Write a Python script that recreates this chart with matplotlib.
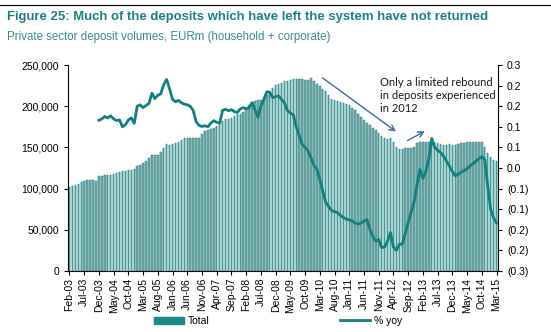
import numpy as np
import pandas as pd
import matplotlib
matplotlib.use("Agg")
import matplotlib.pyplot as plt
from matplotlib.patches import Patch
from matplotlib.lines import Line2D
from matplotlib.ticker import FuncFormatter

plt.rcParams['font.family'] = ['Liberation Sans', 'DejaVu Sans']

# monthly categories Feb-03 .. Mar-15
months = pd.date_range('2003-02-01', periods=146, freq='MS').strftime('%b-%y').tolist()

# total deposits, EURm (thousands)
total_k = [
    102, 103, 104, 106, 108, 109, 110, 110, 110, 109,
    115, 115, 116, 117, 117, 118, 119, 120, 121, 121,
    122, 122, 124, 127, 129, 131, 134, 137, 141, 141,
    141, 145, 149, 154, 153, 154, 155, 157, 159, 161,
    162, 162, 162, 162, 162, 166, 170, 171, 172, 173,
    176, 179, 182, 184, 185, 186, 188, 190, 191, 193,
    198, 202, 205, 206, 207, 207, 208, 214, 218, 222,
    226, 227, 228, 230, 231, 232, 233, 233, 233, 233,
    232, 232, 234, 231, 227, 224, 221, 218, 214, 209,
    207, 206, 205, 204, 203, 201, 198, 195, 191, 187,
    183, 180, 177, 174, 171, 168, 164, 161, 160, 162,
    156, 150, 148, 148, 149, 149, 149, 150, 155, 156,
    156, 157, 157, 157, 156, 155, 154, 153, 153, 154,
    153, 153, 154, 155, 155, 156, 156, 156, 157, 157,
    156, 150, 143, 138, 135, 133,
]
total = np.array(total_k) * 1000

# % yoy, starts Dec-03 (index 10)
yoy_start = 10
yoy = [
    0.139, 0.143, 0.150, 0.146, 0.152, 0.143, 0.138, 0.140, 0.120, 0.126,
    0.140, 0.146, 0.130, 0.180, 0.184, 0.176, 0.182, 0.188, 0.218, 0.202,
    0.212, 0.216, 0.243, 0.258, 0.230, 0.200, 0.193, 0.197, 0.190, 0.186,
    0.184, 0.180, 0.168, 0.135, 0.124, 0.121, 0.123, 0.120, 0.131, 0.138,
    0.133, 0.131, 0.168, 0.171, 0.167, 0.170, 0.164, 0.162, 0.172, 0.176,
    0.172, 0.176, 0.190, 0.170, 0.148, 0.180, 0.200, 0.222, 0.220, 0.205,
    0.208, 0.210, 0.200, 0.190, 0.168, 0.160, 0.155, 0.120, 0.095, 0.069,
    0.060, 0.050, 0.030, 0.008, -0.004, -0.033, -0.067, -0.100, -0.112, -0.124,
    -0.127, -0.130, -0.138, -0.144, -0.149, -0.151, -0.154, -0.160, -0.164, -0.160,
    -0.155, -0.150, -0.178, -0.200, -0.213, -0.208, -0.232, -0.230, -0.213, -0.188,
    -0.230, -0.240, -0.222, -0.222, -0.190, -0.159, -0.130, -0.100, -0.050, -0.004,
    -0.030, -0.010, 0.025, 0.086, 0.060, 0.052, 0.045, 0.035, 0.020, 0.006,
    -0.010, -0.023, -0.018, -0.012, -0.008, -0.002, 0.006, 0.012, 0.020, 0.027,
    0.033, 0.025, -0.052, -0.120, -0.145, -0.160,
]

teal = '#11807f'
title_col = '#1b7f8a'

fig = plt.figure(figsize=(5.51, 3.32), dpi=100)
ax = fig.add_axes([0.1234, 0.1837, 0.7804, 0.6205])
x = np.arange(len(months))

ax.bar(x, total, width=1.0, color='#c8f0f0', linewidth=0)
ax.bar(x, total, width=0.5, color='#7aabab', edgecolor='#236f6f', linewidth=0.3)
ax.set_xlim(-0.5, len(months) - 0.5)
ax.set_ylim(0, 250000)
ax.set_yticks(np.arange(0, 250001, 50000))
ax.yaxis.set_major_formatter(FuncFormatter(lambda v, p: f'{v:,.0f}'))
ax.set_xticks(x[::5])
ax.set_xticklabels(months[::5], rotation=90, fontsize=7.5)
ax.tick_params(axis='y', labelsize=7.5, length=3, width=0.8)
ax.tick_params(axis='x', length=3, width=0.8, pad=2)
for s in ['top', 'right']:
    ax.spines[s].set_visible(False)

ax2 = ax.twinx()
ax2.plot(np.arange(yoy_start, yoy_start + len(yoy)), yoy, color=teal, lw=2.0)
ax2.set_ylim(-0.3, 0.3)
ax2.set_yticks(np.linspace(-0.3, 0.3, 11))
ax2.yaxis.set_major_formatter(FuncFormatter(
    lambda v, p: f'({abs(v):.1f})' if v < -1e-9 else f'{abs(v):.1f}'))
ax2.tick_params(axis='y', labelsize=7.5, length=3, width=0.8)
for s in ['top', 'left', 'bottom']:
    ax2.spines[s].set_visible(False)

# annotation
fig.text(380 / 551, 1 - 77 / 332, 'Only a limited rebound\nin deposits experienced\nin 2012',
         family=['Lato', 'DejaVu Sans'], fontsize=8.0, va='top', ha='left',
         linespacing=1.2, color='#1a1a1a')
arrow = dict(arrowstyle='->', color='#4a6ea8', lw=0.8, mutation_scale=10)
fig.add_artist(plt.annotate('', xy=(398 / 551, 1 - 133 / 332), xytext=(320 / 551, 1 - 76 / 332),
                            xycoords='figure fraction', textcoords='figure fraction',
                            arrowprops=arrow))
fig.add_artist(plt.annotate('', xy=(427 / 551, 1 - 130 / 332), xytext=(405 / 551, 1 - 142 / 332),
                            xycoords='figure fraction', textcoords='figure fraction',
                            arrowprops=arrow))

# header
fig.add_artist(Line2D([0, 1], [1 - 5 / 332, 1 - 5 / 332], color='black', lw=0.8))
fig.text(7 / 551, 1 - 17 / 332, 'Figure 25: Much of the deposits which have left the system have not returned',
         fontsize=9.45, fontweight='bold', color=title_col, va='center')
fig.text(7 / 551, 1 - 37 / 332, 'Private sector deposit volumes, EURm (household + corporate)',
         fontsize=8.3, color='#3a8a8f', va='center')

handles = [Patch(color='#1f8888', label='Total'),
           Line2D([0], [0], color=teal, lw=2.0, label='% yoy')]
fig.legend(handles=handles, loc='center', bbox_to_anchor=(0.505, 0.033), ncol=2,
           frameon=False, fontsize=7.5, handlelength=2.9, handleheight=0.7,
           columnspacing=12.5, handletextpad=0.4)

fig.savefig('out.png', dpi=100)
